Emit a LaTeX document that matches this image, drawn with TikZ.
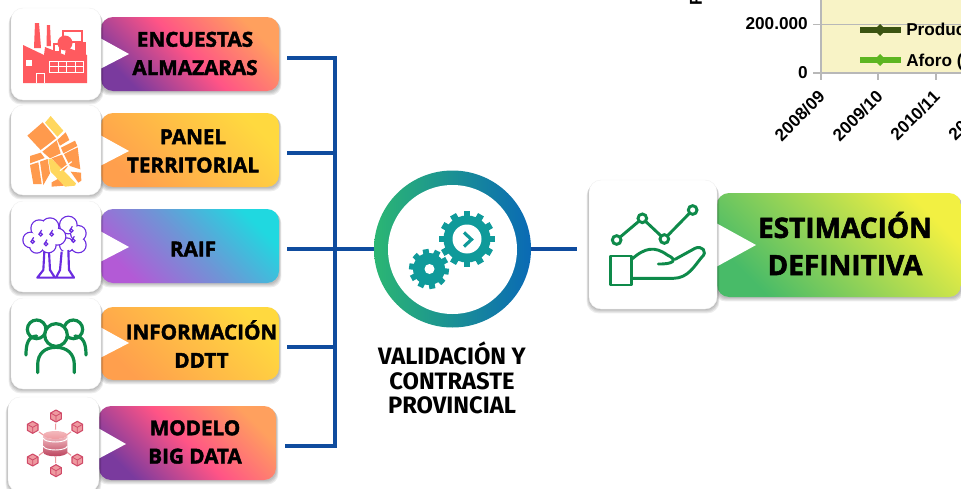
\documentclass[tikz,border=0pt]{standalone}
\usepackage{fontspec}
\setmainfont{Open Sans}
\newfontfamily\lab[BoldFeatures={FakeBold=2}]{Open Sans}
\newfontfamily\valfont{Fira Sans}
\newfontfamily\chartfont{Liberation Sans}
\usetikzlibrary{calc}
\definecolor{busblue}{HTML}{0F4C9E}
\definecolor{facred}{HTML}{FF5A5F}
\definecolor{maporange}{HTML}{FF9A4D}
\definecolor{mapyellow}{HTML}{FFD75E}
\definecolor{treepurple}{HTML}{6A2BE0}
\definecolor{icongreen}{HTML}{0E8A4A}
\definecolor{teal1}{HTML}{0F9A9A}
\definecolor{dbred}{HTML}{D04A68}
\definecolor{dblight}{HTML}{EE9AA0}
\definecolor{grayaxis}{HTML}{B8B8B8}
\definecolor{chartbg}{HTML}{F8F3C6}
\definecolor{purple1}{HTML}{7A3A9E}
\definecolor{pink1}{HTML}{FF5486}
\definecolor{orange1}{HTML}{FFA05E}
\definecolor{orange2}{HTML}{FF9F4D}
\definecolor{yellow2}{HTML}{FFD93F}
\definecolor{purple2}{HTML}{B35AD6}
\definecolor{blue2}{HTML}{6E95D6}
\definecolor{cyan2}{HTML}{20D8E0}
\definecolor{green2}{HTML}{48BB68}
\definecolor{yellow3}{HTML}{F2F042}
\definecolor{ringgreen}{HTML}{2BB673}
\definecolor{ringblue}{HTML}{0A6AB5}
\definecolor{legdark}{HTML}{3B5311}
\definecolor{leglight}{HTML}{5DB521}
\tikzset{
  x=.75pt,y=-.75pt,
  bus/.style={draw=busblue,line width=2.3pt},
  pinkfill/.style={left color=purple1,right color=orange1,middle color=pink1,shading angle=135},
  orangefill/.style={left color=orange2,right color=yellow2,shading angle=135},
  bluefill/.style={left color=purple2,right color=cyan2,middle color=blue2,shading angle=135},
  greenfill/.style={left color=green2,right color=yellow3,shading angle=135},
  lbl/.style={font=\lab\bfseries\fontsize{15.5pt}{21.2pt}\selectfont,align=center,text=black,inner sep=0pt},
  card/.style={fill=white,rounded corners=9pt},
  icon/.style={draw=icongreen,line width=2.2pt,line cap=round,line join=round},
}
% soft shadow: x1 y1 x2 y2 radius
\newcommand\softshadow[5]{\foreach \s in {1,2,3,4}{\fill[black,opacity=.07,rounded corners=#5]
  ({#1-\s*.6},{#2+\s*.9}) rectangle ({#3+\s*.6},{#4+\s*1.1});}}
% band: name x1 y1 x2 y2 fillstyle tipx tipy
\newcommand\band[8]{%
  \softshadow{#2}{#3}{#4}{#5}{8pt}
  \path[#6,rounded corners=9pt] (#2,#3) rectangle (#4,#5);
  \coordinate (#1) at (#4,{(#3+#5)/2});
  \fill[white] (#2-1,#8-16) -- (#7,#8) -- (#2-1,#8+15) -- cycle;
}
\newcommand\cardbox[4]{\softshadow{#1}{#2}{#3}{#4}{9pt}\fill[card,draw=black!6,line width=.3pt] (#1,#2) rectangle (#3,#4);}
\begin{document}
\begin{tikzpicture}
\useasboundingbox (0,0) rectangle (961,489);
\clip (0,0) rectangle (961,489);
\fill[white] (0,0) rectangle (961,489);

%% chart fragment
\begin{scope}[font=\chartfont\bfseries\fontsize{12.9pt}{14pt}\selectfont]
\fill[chartbg] (821,-2) rectangle (965,73);
\draw[grayaxis,line width=.7pt] (813,24) -- (965,24);
\draw[grayaxis,line width=.9pt] (821,-2) -- (821,80) (813,73) -- (965,73) (878,73) -- (878,80) (936,73) -- (936,80);
\node[anchor=east,inner sep=0pt] (t200) at (808,24) {200.000};
\node[anchor=east,inner sep=0pt] (t0) at (808,73) {0};
\node[rotate=90,anchor=west,inner sep=0pt] (yl) at (696,6) {F};
\draw[line width=5pt,draw=legdark] (860,30) -- (901,30);
\fill[legdark] (880,24) -- (886,30) -- (880,36) -- (874,30) -- cycle;
\draw[line width=4.5pt,draw=leglight] (860,60) -- (901,60);
\fill[leglight] (880,54) -- (886,60) -- (880,66) -- (874,60) -- cycle;
\node[anchor=base west,inner sep=0pt] (lg1) at (906,36) {Producción};
\node[anchor=base west,inner sep=0pt] (lg2) at (906,66) {Aforo (};
\node[rotate=45,anchor=north east,inner sep=0pt] (c1) at (817,89) {2008/09};
\node[rotate=45,anchor=north east,inner sep=0pt] (c2) at (875,89) {2009/10};
\node[rotate=45,anchor=north east,inner sep=0pt] (c3) at (932,89) {2010/11};
\node[rotate=45,anchor=north east,inner sep=0pt] (c4) at (990,89) {2011/12};
\end{scope}

%% bands
\band{b1}{101}{17}{279}{91}{pinkfill}{129}{54}
\band{b2}{101}{113}{279}{187}{orangefill}{129}{151}
\band{b3}{101}{209}{279}{283}{bluefill}{129}{247}
\band{b4}{101}{307}{279}{380}{orangefill}{129}{343}
\band{b5}{99}{406}{276}{480}{pinkfill}{126}{444}
\softshadow{717}{193}{961}{297}{8pt}
\path[greenfill,rounded corners=9pt] (717,193) rectangle (961,297);
\fill[white] (716,223) -- (756,245) -- (716,267) -- cycle;

%% cards
\cardbox{11}{8}{101}{100}
\cardbox{11}{105}{101}{195}
\cardbox{11}{201}{101}{292}
\cardbox{11}{298}{101}{389}
\cardbox{8}{397}{99}{492}
\cardbox{589}{180}{717}{309}

%% labels
\node[lbl] (n1) at (195,53.5) {ENCUESTAS\\ALMAZARAS};
\node[lbl] (n2) at (193,151) {PANEL\\TERRITORIAL};
\node[lbl] (n3) at (193,249) {RAIF};
\node[lbl] (n4) at (201.5,344) {INFORMACIÓN\\DDTT};
\node[lbl] (n5) at (195,442) {MODELO\\BIG DATA};
\node[lbl,font=\lab\bfseries\fontsize{21pt}{28pt}\selectfont] (n6) at (845,243.5) {ESTIMACIÓN\\DEFINITIVA};

%% connectors
\coordinate (s1) at (287,58); \coordinate (s2) at (287,153); \coordinate (s3) at (287,249);
\coordinate (s4) at (287,347); \coordinate (s5) at (285,446);
\coordinate (j1) at (335,58); \coordinate (j2) at (335,153); \coordinate (j3) at (335,249);
\coordinate (j4) at (335,347); \coordinate (j5) at (335,446);
\coordinate (endout) at (577,249);
\draw[bus,line cap=rect] (j1) -- (j5);
\foreach \i in {1,...,5}{\draw[bus] (s\i) -- (j\i);}

%% ring
\node[circle,minimum size=117.75pt,inner sep=0pt,left color=ringgreen,right color=ringblue] (ring) at (452.5,249) {};
\fill[white] (452.5,249.5) circle (64.5);
\draw[bus] (j3) -- (ring.west);
\draw[bus] (ring.east) -- (endout);

%% gears
\fill[teal1] (467,239) circle (23.5);
\foreach \a in {0,30,...,330}{\begin{scope}[shift={(467,239)},rotate=\a]\fill[teal1] (-3.4,-28) rectangle (3.4,0);\end{scope}}
\fill[white] (467,239) circle (14.5);
\draw[teal1,line width=2.4pt,line join=miter] (464,232.5) -- (471.5,239.5) -- (464,246.5);
\fill[teal1] (429,269) circle (16);
\foreach \a in {0,36,...,324}{\begin{scope}[shift={(429,269)},rotate=\a+10]\fill[teal1] (-3,-20) rectangle (3,0);\end{scope}}
\fill[white] (429.5,269) circle (5);

\node[font=\valfont\bfseries\fontsize{17.8pt}{18.4pt}\selectfont,align=center,inner sep=0pt] (val) at (452,378) {VALIDACIÓN Y\\CONTRASTE\\PROVINCIAL};

%% factory icon
\begin{scope}
\fill[facred] (35,23) -- (39,23) -- (41,48) -- (34,48) -- cycle;
\fill[facred] (47,25) -- (50,25) -- (51,46) -- (46.5,46) -- cycle;
\draw[facred,line width=.9pt] (63,31) rectangle (82,42);
\fill[facred] (65,43) circle (7.5);
\fill[facred] (75,42) rectangle (86,55);
\draw[facred,line width=.9pt] (54,44) rectangle (60,52);
\fill[facred] (23,45) -- (44,55) -- (45,47) -- (65,55) -- (66,47) -- (87,55) -- (87,83) -- (23,83) -- cycle;
\fill[white] (26,60) rectangle (32,66);
\draw[white,line width=.7pt] (49,61) rectangle (83,72) (49,66.5) -- (83,66.5) (58,61) -- (58,72) (66,61) -- (66,72) (75,61) -- (75,72);
\draw[white,line width=.7pt] (36,83) -- (36,73) -- (44,73) -- (44,83);
\end{scope}

%% map icon
\begin{scope}[x=.25pt,y=-.25pt]
\foreach \poly in {
 {(82,407) -- (128,367) -- (168,415) -- (122,450)},
 {(172,420) -- (197,397) -- (208,420) -- (180,437)},
 {(183,443) -- (225,422) -- (232,438) -- (190,460)},
 {(127,455) -- (170,421) -- (182,460) -- (150,475)},
 {(90,468) -- (122,458) -- (134,474) -- (90,490)},
 {(155,475) -- (186,464) -- (203,500) -- (190,515)},
 {(192,462) -- (233,442) -- (241,508) -- (210,498)},
 {(212,515) -- (243,518) -- (244,542) -- (235,548)},
 {(90,495) -- (115,487) -- (125,552) -- (100,552)},
 {(120,485) -- (143,477) -- (150,520) -- (130,555)},
 {(155,547) -- (183,532) -- (192,557) -- (155,560)}
}{\fill[maporange] \poly -- cycle;}
\fill[mapyellow] (135,368) -- (152,348) -- (190,392) -- (172,410) -- cycle;
\fill[mapyellow] (145,478) -- (155,476) -- (228,550) -- (225,557) -- (195,560) -- (152,515) -- cycle;
\draw[white,line width=.9pt] (180,512) -- (215,485);
\end{scope}

%% tree icon
\begin{scope}[x=.25pt,y=-.25pt,shift={(0,570)}]
\tikzset{tr/.style={draw=treepurple,line width=1.6pt,line join=round}}
\foreach \p/\q/\r in {205/105/25,235/130/22,235/165/22,200/165/20}{\draw[tr] (\p,\q) circle (\r);}
\foreach \p/\q/\r in {205/105/25,235/130/22,235/165/22,200/165/20}{\fill[white] (\p,\q) circle ({\r-.5});}
\draw[tr,fill=white] (185,185) -- (180,240) -- (168,263) -- (222,263) -- (207,240) -- (205,180);
\draw[tr,fill=white] (133,185) -- (130,240) -- (112,263) -- (165,263) -- (150,240) -- (147,185);
\foreach \p/\q/\r in {92/150/22,118/115/24,150/110/25,172/140/24,145/165/22,110/168/20}{\draw[tr] (\p,\q) circle (\r);}
\foreach \p/\q/\r in {92/150/22,118/115/24,150/110/25,172/140/24,145/165/22,110/168/20,130/140/25}{\fill[white] (\p,\q) circle ({\r-.5});}
\foreach \p/\q in {98/155,122/133,155/133,138/162,214/122,220/152}{\draw[treepurple,line width=.9pt] (\p,\q) circle (5);\draw[treepurple,line width=.9pt] (\p-5,\q) -- (\p+3,\q-13);}
\end{scope}

%% people icon
\begin{scope}[x=.25pt,y=-.25pt,shift={(0,570)}]
\tikzset{ppl/.style={draw=icongreen,line width=2.4pt,line cap=round,fill=white}}
\draw[ppl] (110,418) circle (28);
\draw[ppl] (220,418) circle (28);
\draw[ppl,fill=none] (78,495) .. controls (78,460) and (85,440) .. (110,438);
\draw[ppl,fill=none] (258,495) .. controls (258,460) and (250,440) .. (225,438);
\draw[ppl] (168,435) circle (34);
\draw[ppl] (113,548) -- (113,525) .. controls (113,490) and (135,472) .. (168,472) .. controls (200,472) and (223,490) .. (223,525) -- (223,548);
\end{scope}

%% big data icon
\begin{scope}[x=.25pt,y=-.25pt,shift={(0,570)}]
\foreach \p/\q in {168/678,232/712,232/810,168/842,98/810,98/712}{
 \draw[dblight,line width=.8pt] ({\p*.72+165*.28},{\q*.72+760*.28}) -- ({\p*.5+165*.5},{\q*.5+760*.5});
 \fill[dblight,draw=dbred,line width=.8pt,line join=round] (\p,\q-18) -- (\p+16,\q-9) -- (\p+16,\q+9) -- (\p,\q+18) -- (\p-16,\q+9) -- (\p-16,\q-9) -- cycle;
 \draw[dbred,line width=.6pt] (\p-16,\q-9) -- (\p,\q) -- (\p+16,\q-9) (\p,\q) -- (\p,\q+18);
}
\shade[top color=dblight!60!white,bottom color=dbred!90!black] (130,735) arc (180:0:36 and 12) -- (202,787) arc (0:180:36 and 12) -- cycle;
\shade[top color=dblight!70!white,bottom color=dblight] (166,735) ellipse (36 and 12);
\draw[white,line width=.7pt] (130,760) arc (180:360:0 and 0);
\draw[white,line width=.7pt] (130,744) arc (180:0:36 and 12) (130,768) arc (180:0:36 and 12);
\end{scope}

%% final icon
\begin{scope}[x=.25pt,y=-.25pt,shift={(1740,510)}]
\draw[icon] (110,210) -- (187,145) -- (253,207) -- (338,120);
\foreach \p/\q in {110/210,187/145,253/207,338/120}{\draw[icongreen,line width=2.2pt,fill=white] (\p,\q) circle (13);}
\draw[icon] (92,258) rectangle (155,345);
\draw[icon] (155,268) .. controls (195,232) and (225,228) .. (262,255) .. controls (295,270) and (280,283) .. (235,282);
\draw[icon] (285,268) -- (345,235) .. controls (365,225) and (385,245) .. (365,262) .. controls (345,285) and (325,325) .. (280,325) -- (155,325);
\end{scope}
\end{tikzpicture}
\end{document}
